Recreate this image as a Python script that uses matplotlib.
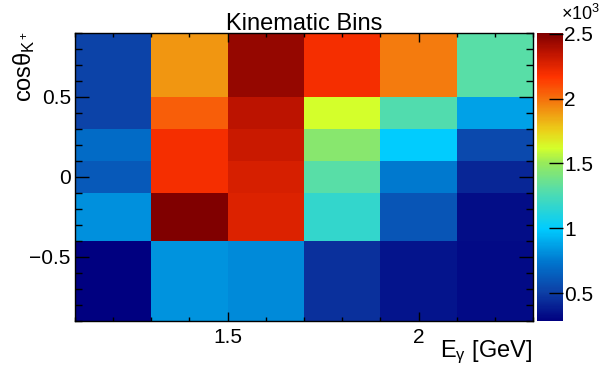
import numpy as np
import matplotlib
matplotlib.use("Agg")
import matplotlib.pyplot as plt
from matplotlib.colors import LinearSegmentedColormap
from matplotlib.ticker import MultipleLocator, FuncFormatter

plt.rcParams['font.family'] = ['Liberation Sans', 'DejaVu Sans']
plt.rcParams['mathtext.fontset'] = 'custom'
plt.rcParams['mathtext.rm'] = 'Liberation Sans'
plt.rcParams['mathtext.it'] = 'Liberation Sans'

# bin edges
e_gamma_edges = [1.1, 1.3, 1.5, 1.7, 1.9, 2.1, 2.3]
cos_theta_edges = [-0.9, -0.4, -0.1, 0.1, 0.3, 0.5, 0.9]

# counts per bin, rows from bottom (cos theta) to top, columns by E_gamma
row_m09 = [285, 830, 800, 450, 360, 320]
row_m04 = [820, 2505, 2270, 1170, 600, 330]
row_m01 = [620, 2200, 2280, 1300, 750, 420]
row_p01 = [700, 2200, 2320, 1450, 1000, 550]
row_p03 = [520, 2050, 2350, 1620, 1280, 870]
row_p05 = [520, 1900, 2450, 2200, 1970, 1300]

counts = np.array([row_m09, row_m04, row_m01, row_p01, row_p03, row_p05])

# palette sampled from the reference colour bar
stops = [
    (0.00, (0.00, 0.00, 0.50)),
    (0.10, (0.05, 0.25, 0.65)),
    (0.20, (0.00, 0.45, 0.80)),
    (0.32, (0.00, 0.80, 1.00)),
    (0.46, (0.35, 0.87, 0.65)),
    (0.55, (0.60, 0.92, 0.35)),
    (0.60, (0.83, 1.00, 0.17)),
    (0.66, (0.92, 0.82, 0.10)),
    (0.77, (0.96, 0.45, 0.05)),
    (0.85, (1.00, 0.20, 0.00)),
    (0.93, (0.75, 0.08, 0.00)),
    (1.00, (0.50, 0.00, 0.00)),
]
cmap = LinearSegmentedColormap.from_list("rootlike", stops)

W, H = 604, 365
fig = plt.figure(figsize=(W / 100, H / 100), dpi=100)
ax = fig.add_axes([75 / W, 44 / H, 458 / W, 288 / H])
cax = fig.add_axes([537 / W, 44 / H, 26 / W, 288 / H])

mesh = ax.pcolormesh(e_gamma_edges, cos_theta_edges, counts, cmap=cmap,
                     vmin=counts.min(), vmax=counts.max())

ax.set_xlim(e_gamma_edges[0], e_gamma_edges[-1])
ax.set_ylim(cos_theta_edges[0], cos_theta_edges[-1])
ax.xaxis.set_major_locator(MultipleLocator(0.5))
ax.xaxis.set_minor_locator(MultipleLocator(0.1))
ax.yaxis.set_major_locator(MultipleLocator(0.5))
ax.yaxis.set_minor_locator(MultipleLocator(0.1))
ax.xaxis.set_major_formatter(FuncFormatter(lambda v, p: '%g' % v))
ax.yaxis.set_major_formatter(FuncFormatter(lambda v, p: ('%g' % v).replace('-', '\u2212')))
ax.tick_params(which='both', direction='in', top=True, right=True, labelsize=15, width=1)
ax.tick_params(axis='y', which='major', length=10, pad=3)
ax.tick_params(axis='y', which='minor', length=5)
ax.tick_params(axis='x', which='major', length=6.5, pad=5)
ax.tick_params(axis='x', which='minor', length=3.2)
for s in ax.spines.values():
    s.set_linewidth(1)

# titles placed like ROOT does
fig.text(304 / W, 1 - 30 / H, "Kinematic Bins", fontsize=17, ha='center', va='baseline')
fig.text(532 / W, 1 - 357 / H, r"E$_{\gamma}$ [GeV]", fontsize=17, ha='right', va='baseline')
fig.text(24 / W, 1 - 32 / H, r"cos$\theta_{K^{+}}$", fontsize=17, rotation=90,
         ha='center', va='top')

cb = fig.colorbar(mesh, cax=cax)
cb.outline.set_visible(False)
cb.set_ticks([500, 1000, 1500, 2000, 2500])
cb.ax.yaxis.set_major_formatter(FuncFormatter(lambda v, p: '%g' % (v / 1000)))
cb.ax.yaxis.set_minor_locator(MultipleLocator(100000))
cb.ax.tick_params(which='major', direction='in', length=10, width=1, labelsize=15, pad=1)
cb.ax.tick_params(which='minor', length=0)
fig.text(600 / W, 1 - 4 / H, r"$\times$10$^{3}$", fontsize=13, ha='right', va='top')

fig.savefig("out.png", dpi=100)
